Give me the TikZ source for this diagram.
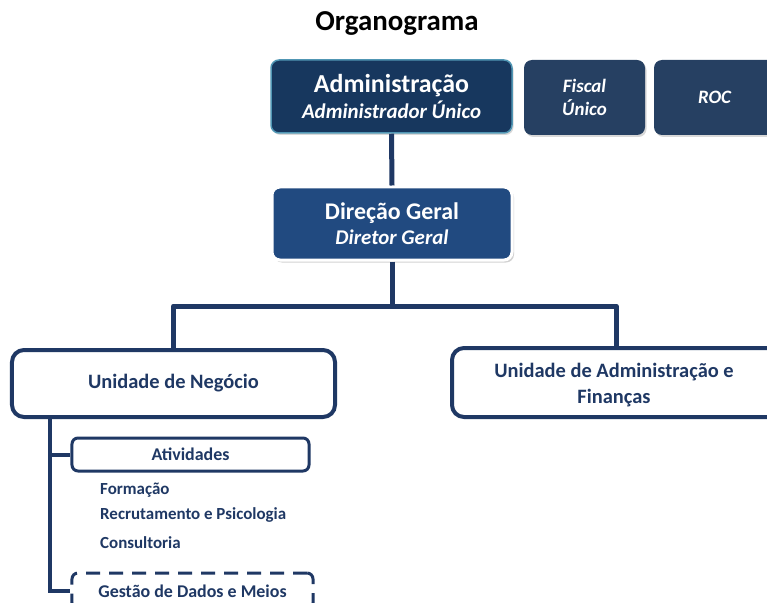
\documentclass[tikz,border=0pt]{standalone}
\usepackage{fontspec}
\setmainfont{Carlito}
\usetikzlibrary{shadows}
\definecolor{navy}{RGB}{31,56,100}
\definecolor{admfill}{RGB}{23,55,94}
\definecolor{admedge}{RGB}{80,150,180}
\definecolor{sidefill}{RGB}{38,64,98}
\definecolor{dirfill}{RGB}{33,74,128}
\tikzset{
  conn/.style={draw=navy,line width=5bp},
  thinconn/.style={draw=navy,line width=4bp},
  topbox/.style={rounded corners=8bp,inner sep=0pt,align=center,text=white,font=\bfseries},
  unitbox/.style={draw=navy,fill=white,line width=4bp,rounded corners=12bp,inner sep=0pt,align=center,text=navy,font=\bfseries\fontsize{20.5}{26}\selectfont},
  boxtext/.style={inner sep=0pt,align=center,text=navy,font=\bfseries\fontsize{20.5}{26}\selectfont},
  subbox/.style={draw=navy,fill=white,line width=3bp,rounded corners=6bp,inner sep=0pt,align=center,text=navy,font=\bfseries\fontsize{18}{22}\selectfont},
  item/.style={anchor=west,inner sep=0pt,text=navy,font=\bfseries\fontsize{17}{20}\selectfont}
}
\begin{document}
\begin{tikzpicture}[x=1bp,y=-1bp]
\useasboundingbox (0,0) rectangle (767,603);
\clip (0,0) rectangle (767,603);
\fill[white] (0,0) rectangle (767,603);

\node[inner sep=0pt,font=\bfseries\fontsize{29}{34}\selectfont] (title) at (397,23) {Organograma};

\node[topbox,fill=admfill,draw=admedge,line width=1.5bp,minimum width=241bp,minimum height=73bp,
  drop shadow={opacity=0.3,shadow xshift=1.5bp,shadow yshift=-2bp}] (adm) at (391.5,96.5)
  {{\fontsize{26}{30}\selectfont Administração}\\[4bp]{\fontsize{21}{24}\selectfont\itshape Administrador Único}};

\node[topbox,fill=sidefill,minimum width=121bp,minimum height=75bp,
  drop shadow={opacity=0.3,shadow xshift=1.5bp,shadow yshift=-2bp},font=\bfseries\itshape\fontsize{19}{23}\selectfont] (fis) at (584.5,97.5) {Fiscal\\Único};
\node[topbox,fill=sidefill,minimum width=121bp,minimum height=75bp,
  drop shadow={opacity=0.3,shadow xshift=1.5bp,shadow yshift=-2bp},font=\bfseries\itshape\fontsize{19}{21}\selectfont] (roc) at (714.5,97.5) {ROC};

\node[topbox,fill=dirfill,draw=white,line width=3bp,minimum width=240bp,minimum height=73bp,
  drop shadow={opacity=0.35,shadow xshift=2bp,shadow yshift=-2.5bp}] (dir) at (392,223.5)
  {{\fontsize{24}{28}\selectfont Direção Geral}\\[5bp]{\fontsize{21}{24}\selectfont\itshape Diretor Geral}};

\node[unitbox,minimum width=323bp,minimum height=67bp] (un) at (173.5,383.5) {Unidade de Negócio};
\node[unitbox,minimum width=328bp,minimum height=69bp] (uaf) at (616,382.5) {};
\node[boxtext] (uaft) at (614,385) {Unidade de Administração e\\Finanças};

\node[subbox,minimum width=237bp,minimum height=33bp] (ativ) at (190.5,454.5) {Atividades};
\node[subbox,dashed,dash pattern=on 14bp off 9bp,minimum width=241bp,minimum height=36bp] (ges) at (192.5,591) {Gestão de Dados e Meios};

\node[item] (f1) at (100,490) {Formação};
\node[item] (f2) at (100,515) {Recrutamento e Psicologia};
\node[item] (f3) at (100,543) {Consultoria};

\coordinate (j) at (390,306);
\coordinate (ut) at (50,417);

\draw[conn] (adm.south) -- (dir.north);
\draw[conn] (dir.south) -- (dir.south |- j);
\draw[conn,line join=round] (un.north) -- (un.north |- j) -- (uaf.north |- j) -- (uaf.north);
\draw[thinconn] (ut) |- (ativ.west);
\draw[thinconn] (ut) |- (ges.west);
\end{tikzpicture}
\end{document}
